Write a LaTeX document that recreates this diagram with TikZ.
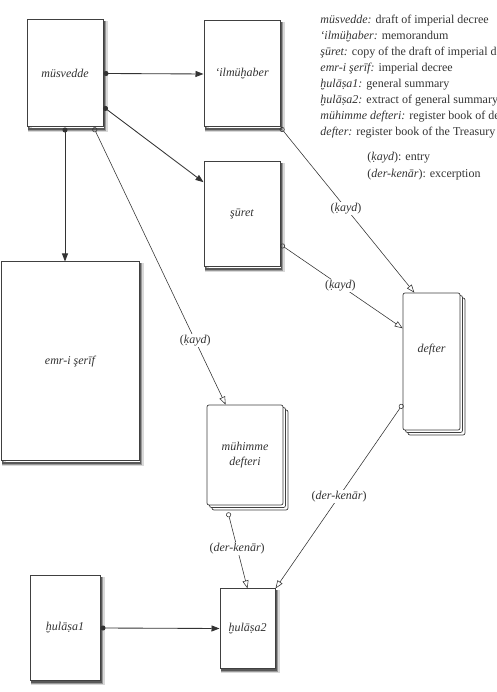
\documentclass[tikz,border=0pt]{standalone}
\usepackage{fontspec}
\setmainfont{Liberation Serif}
\usepackage{tikz}
\usetikzlibrary{arrows.meta,shadows}

\begin{document}
\begin{tikzpicture}[x=10pt,y=10pt,line width=0.3mm]
\tikzstyle{every node}=[font=\fontsize{12}{15}\selectfont, text=black!80]
\tikzstyle{sheet}=[draw=black!75, line width=0.35mm, fill=white, font=\fontsize{12}{15}\selectfont\itshape,
  preaction={draw=black!15, line width=4pt, transform canvas={shift={(2.5pt,-3pt)}}},
  preaction={draw=black!40, line width=2.5pt, transform canvas={shift={(2pt,-2.5pt)}}},
  preaction={draw=black!65, line width=1.2pt, transform canvas={shift={(1.5pt,-2pt)}}}]
\tikzstyle{book}=[draw=black!75, line width=0.25mm, fill=white, rounded corners=2pt, align=center,
  font=\fontsize{12}{15}\selectfont\itshape,
  copy shadow={draw=black!75, line width=0.25mm, shadow xshift=5pt, shadow yshift=-5pt},
  copy shadow={draw=black!75, line width=0.25mm, shadow xshift=2.5pt, shadow yshift=-2.5pt}]
\tikzstyle{lbl}=[fill=white, inner sep=1pt]
\tikzstyle{gloss}=[anchor=base west, inner sep=0pt]
\tikzstyle{sends}=[line width=0.3mm, black!80, {Circle[length=5pt]}-{Triangle[length=8pt,width=6pt]}]
\tikzstyle{enters}=[line width=0.2mm, black!80, {Circle[open,length=5pt]}-{Triangle[open,length=8pt,width=6pt]}]
\useasboundingbox (0,0) rectangle (49.6,69.2);
\node[sheet, minimum width=76pt, minimum height=107pt] (mus) at (6.5,61.85) {müsvedde};
\node[sheet, minimum width=76pt, minimum height=106pt] (ilm) at (24.2,61.8) {‘ilmüḫaber};
\node[sheet, minimum width=76pt, minimum height=105pt] (sur) at (24.2,47.75) {şūret};
\node[sheet, minimum width=138pt, minimum height=199pt] (emr) at (7.0,33.05) {emr-i şerīf};
\node[book, minimum width=76pt, minimum height=100pt] (muh) at (24.5,23.7) {mühimme\\defteri};
\node[book, minimum width=57pt, minimum height=137pt, text depth=27pt] (def) at (43.15,33.05) {defter};
\node[sheet, minimum width=70pt, minimum height=104pt] (hulA) at (6.5,6.4) {ḫulāṣa1};
\node[sheet, minimum width=55pt, minimum height=79pt] (hulB) at (24.75,6.35) {ḫulāṣa2};
\draw[sends] (mus.east) -- (ilm.west);
\draw[sends] (mus.-41) -- (sur.140);
\draw[sends] (mus.south) -- (mus.south |- emr.north);
\draw[enters] (mus.-62) -- node[lbl, pos=0.77] {(\textit{ḳayd})} (muh.111);
\draw[enters] (ilm.south east) -- node[lbl, pos=0.49] {(\textit{ḳayd})} (def.104);
\draw[enters] (sur.-38) -- node[lbl, pos=0.49] {(\textit{ḳayd})} (def.131);
\draw[enters] (def.236) -- node[lbl] {(\textit{der-kenār})} (hulB.north east);
\draw[enters] ([xshift=-17pt,yshift=-7pt]muh.south) -- node[lbl, pos=0.47] {(\textit{der-kenār})} (hulB.north);
\draw[sends] (hulA.east) -- (hulB.west);
\node[gloss] (g1) at (32,66.85) {\textit{müsvedde:} draft of imperial decree};
\node[gloss] (g2) at (32,65.25) {\textit{‘ilmüḫaber:} memorandum};
\node[gloss] (g3) at (32,63.65) {\textit{şūret:} copy of the draft of imperial decree};
\node[gloss] (g4) at (32,62.05) {\textit{emr-i şerīf:} imperial decree};
\node[gloss] (g5) at (32,60.45) {\textit{ḫulāṣa1:} general summary};
\node[gloss] (g6) at (32,58.85) {\textit{ḫulāṣa2:} extract of general summary};
\node[gloss] (g7) at (32,57.25) {\textit{mühimme defteri:} register book of decrees};
\node[gloss] (g8) at (32,55.65) {\textit{defter:} register book of the Treasury};
\node[gloss] (g9) at (36.7,53.15) {(\textit{ḳayd}): entry};
\node[gloss] (g10) at (36.7,51.45) {(\textit{der-kenār}): excerption};
\end{tikzpicture}
\end{document}
